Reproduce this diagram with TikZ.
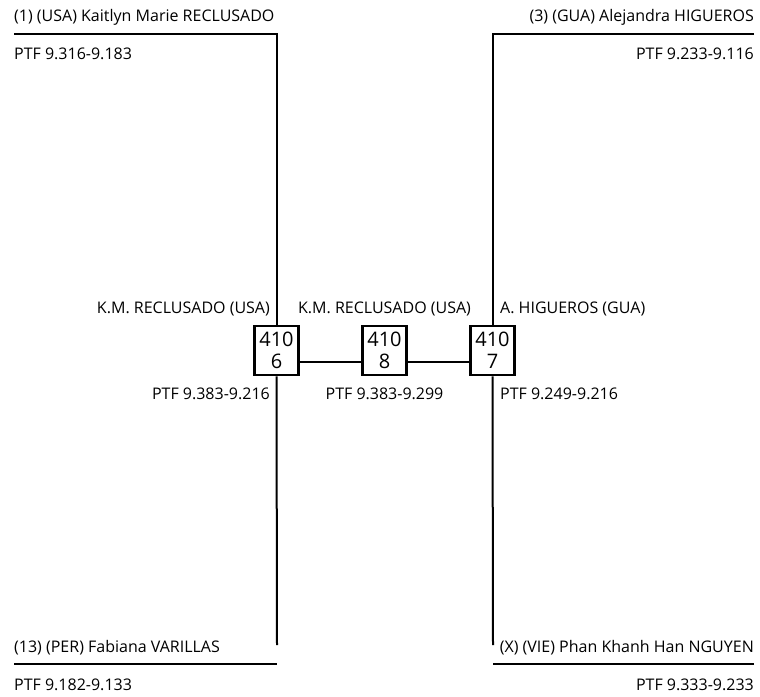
\documentclass[tikz,border=0pt]{standalone}
\usepackage{fontspec}
\setmainfont{Open Sans}
\begin{document}
\begin{tikzpicture}[x=1pt,y=-1pt,
    lbl/.style={inner sep=0pt,font=\fontsize{16}{18}\selectfont},
    bout/.style={draw,line width=2.6pt,minimum width=44pt,minimum height=49pt,inner sep=0pt,align=center,font=\fontsize{20}{22}\selectfont},
    wire/.style={line width=2pt}]
    \useasboundingbox (0,0) rectangle (760,696);
    % bouts
    \node[bout] (b6) at (276.5,350.5) {410\\6};
    \node[bout] (b8) at (384.5,350.5) {410\\8};
    \node[bout] (b7) at (492.5,350.5) {410\\7};
    % line ends
    \coordinate (tl) at (14,34);
    \coordinate (tr) at (754,34);
    \coordinate (bl) at (14,664);
    \coordinate (br) at (754,664);
    \coordinate (el) at (277,645);
    \coordinate (er) at (493,645);
    \draw[wire] (tl) -- (tl -| b6) -- (b6.north); % top left
    \draw[wire] (tr) -- (tr -| b7) -- (b7.north); % top right
    \draw[wire] (b6.south) -- (el); % down left
    \draw[wire] (b7.south) -- (er); % down right
    \draw[wire] (bl) -- (bl -| b6); % bottom left
    \draw[wire] (br) -- (br -| b7); % bottom right
    \draw[wire] ([yshift=-11pt]b6.east) -- ([yshift=-11pt]b8.west); % 6 to 8
    \draw[wire] ([yshift=-11pt]b8.east) -- ([yshift=-11pt]b7.west); % 8 to 7
    % names
    \node[lbl,anchor=west] (n1) at (14,17) {(1) (USA) Kaitlyn Marie RECLUSADO};
    \node[lbl,anchor=west] (p1) at (14,54) {PTF 9.316-9.183};
    \node[lbl,anchor=east] (n3) at (754,17) {(3) (GUA) Alejandra HIGUEROS};
    \node[lbl,anchor=east] (p3) at (754,54) {PTF 9.233-9.116};
    \node[lbl,anchor=east] (n6) at (270,309) {K.M. RECLUSADO (USA)};
    \node[lbl] (n8) at (384.5,309) {K.M. RECLUSADO (USA)};
    \node[lbl,anchor=west] (n7) at (500,309) {A. HIGUEROS (GUA)};
    \node[lbl,anchor=east] (p6) at (270,394) {PTF 9.383-9.216};
    \node[lbl] (p8) at (384.5,394) {PTF 9.383-9.299};
    \node[lbl,anchor=west] (p7) at (500,394) {PTF 9.249-9.216};
    \node[lbl,anchor=west] (n13) at (14,648) {(13) (PER) Fabiana VARILLAS};
    \node[lbl,anchor=west] (p13) at (14,685) {PTF 9.182-9.133};
    \node[lbl,anchor=east] (nx) at (754,648) {(X) (VIE) Phan Khanh Han NGUYEN};
    \node[lbl,anchor=east] (px) at (754,685) {PTF 9.333-9.233};
\end{tikzpicture}
\end{document}
